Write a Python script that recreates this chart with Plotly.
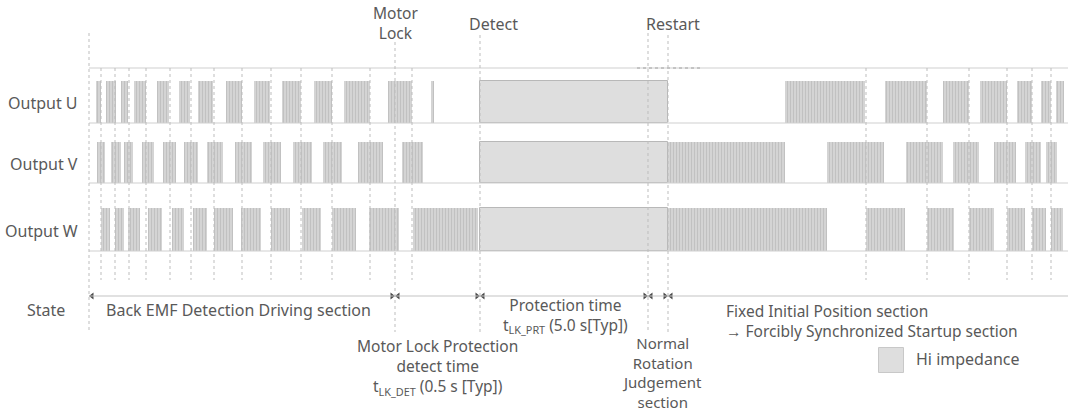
import plotly.graph_objects as go

# ---------------- data (time positions) ----------------
u_on = [[96, 101], [106, 116], [121, 128], [134, 146], [157, 169], [179, 190],
        [198, 213], [226, 242], [254, 270], [282, 301], [314, 332], [344, 370],
        [388, 412], [431, 434], [785, 865], [885, 927], [943, 969], [980, 1007],
        [1017, 1032], [1041, 1051], [1056, 1064]]
v_on = [[97, 105], [111, 121], [124, 133], [142, 154], [163, 176], [184, 198],
        [207, 223], [235, 252], [263, 281], [293, 312], [323, 342], [358, 383],
        [402, 423], [668, 785], [827, 884], [906, 943], [953, 979], [994, 1016],
        [1025, 1041], [1046, 1057]]
w_on = [[101, 110], [115, 124], [128, 140], [148, 162], [172, 184], [193, 207],
        [214, 233], [241, 261], [271, 290], [302, 321], [332, 356], [369, 399],
        [413, 478], [668, 827], [866, 905], [927, 954], [969, 994], [1007, 1025],
        [1032, 1046], [1051, 1063]]
hi_z = [480, 668]                      # Hi impedance interval (all outputs)
events = [89, 395, 480, 648, 668]      # state boundaries
grid_t = [101, 115, 129, 146, 170, 191, 214, 242, 271, 301, 332, 370, 412,
          866, 927, 969, 1007, 1032, 1051]
row_names = ["Output U", "Output V", "Output W"]

# ---------------- layout constants ----------------
W, H = 1068, 412
ROW = {"Output U": (81, 123), "Output V": (142, 183), "Output W": (208, 251)}
FONT = "Noto Sans"
TXT = "#595959"
GRID = "#bdbdbd"
STATE_Y = 296

fig = go.Figure()

# pulse blocks
for name, blocks in zip(row_names, [u_on, v_on, w_on]):
    top, bot = ROW[name]
    fig.add_trace(go.Bar(
        orientation="h",
        y=[(top + bot) / 2] * len(blocks),
        base=[b[0] for b in blocks],
        x=[b[1] - b[0] for b in blocks],
        width=bot - top,
        marker=dict(color="#d4d4d4",
                    line=dict(width=0),
                    pattern=dict(shape="|", size=3, solidity=0.3,
                                 fgcolor="#acacac", fillmode="overlay")),
        hoverinfo="skip",
    ))
    # Hi impedance block
    fig.add_trace(go.Bar(
        orientation="h",
        y=[(top + bot) / 2], base=[hi_z[0]], x=[hi_z[1] - hi_z[0]],
        width=bot - top,
        marker=dict(color="#dedede", line=dict(color="#b8b8b8", width=1)),
        hoverinfo="skip",
    ))

shapes = []
# horizontal reference lines
for yy in [68, ROW["Output U"][1], ROW["Output V"][1], ROW["Output W"][1]]:
    shapes.append(dict(type="line", xref="x", yref="y", x0=events[0], x1=W,
                       y0=yy, y1=yy, line=dict(color="#cfcfcf", width=1.2)))
shapes.append(dict(type="line", xref="x", yref="y", x0=637, x1=700, y0=68, y1=68,
                   line=dict(color="#a0a0a0", width=1, dash="dot")))
# dashed vertical lines
for t in grid_t:
    shapes.append(dict(type="line", xref="x", yref="y", x0=t, x1=t, y0=68, y1=280,
                       line=dict(color=GRID, width=1, dash="3px,3px")))
ev_top = {89: 33, 395: 42, 480: 35, 648: 33, 668: 35}
for t in events:
    shapes.append(dict(type="line", xref="x", yref="y", x0=t, x1=t, y0=ev_top[t],
                       y1=332, line=dict(color=GRID, width=1, dash="3px,3px")))
# state line
shapes.append(dict(type="line", xref="x", yref="y", x0=events[0], x1=W,
                   y0=STATE_Y, y1=STATE_Y, line=dict(color="#c4c4c4", width=1.2)))
fig.update_layout(shapes=shapes)

# arrowheads on state line
rx, lx = [], []
for t in events[1:]:
    rx.append(t - 3)
    lx.append(t + 3)
lx.append(events[0] + 3)
fig.add_trace(go.Scatter(x=rx, y=[STATE_Y] * len(rx), mode="markers",
                         marker=dict(symbol="triangle-right", size=6, color="#4a4a4a"),
                         hoverinfo="skip"))
fig.add_trace(go.Scatter(x=lx, y=[STATE_Y] * len(lx), mode="markers",
                         marker=dict(symbol="triangle-left", size=6, color="#4a4a4a"),
                         hoverinfo="skip"))
# legend square
fig.add_trace(go.Scatter(x=[891], y=[360], mode="markers",
                         marker=dict(symbol="square", size=25, color="#dedede",
                                     line=dict(color="#c8c8c8", width=1)),
                         hoverinfo="skip"))

def ann(text, x, y, xanchor="center", align="center", size=15.5):
    fig.add_annotation(x=x, y=y, xref="x", yref="y", text=text, showarrow=False,
                       xanchor=xanchor, yanchor="middle", align=align,
                       font=dict(family=FONT, size=size, color=TXT))

for name in row_names:
    top, bot = ROW[name]
    ann(name, 80, (top + bot) / 2 + 1, "right", size=16)

ann("Motor<br>Lock", 395, 23)
ann("Detect", 493, 24, size=16)
ann("Restart", 673, 24, size=16)
ann("State", 25, 310, "left", size=16)
ann("Back EMF Detection Driving section", 104, 310, "left", size=16)
ann("Protection time<br>t<sub>LK_PRT</sub> (5.0 s[Typ])", 565, 315)
ann("Motor Lock Protection<br>detect time<br>t<sub>LK_DET</sub> (0.5 s [Typ])", 437, 367)
ann("Normal<br>Rotation<br>Judgement<br>section", 662, 372, size=15)
ann("Fixed Initial Position section<br>→ Forcibly Synchronized Startup section",
    724, 321, "left", "left")
ann("Hi impedance", 914, 359, "left", size=16)

fig.update_layout(
    width=W, height=H, margin=dict(l=0, r=0, t=0, b=0),
    paper_bgcolor="white", plot_bgcolor="white", showlegend=False,
    barmode="overlay", bargap=0,
    xaxis=dict(range=[0, W], visible=False, fixedrange=True),
    yaxis=dict(range=[H, 0], visible=False, fixedrange=True),
)

fig.write_html("out.html", config={"displayModeBar": False},
               post_script="document.body.style.margin='0';document.body.style.overflow='hidden';")
